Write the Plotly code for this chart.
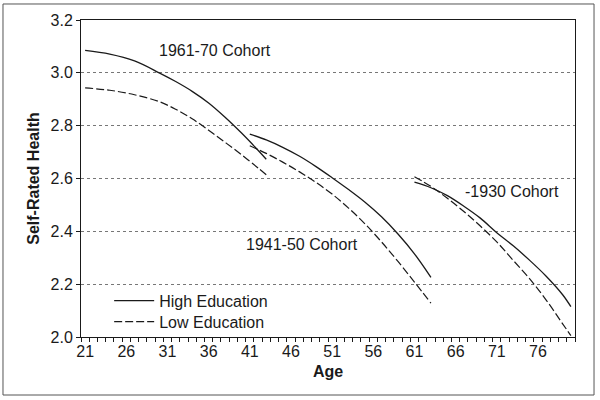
import plotly.graph_objects as go

# ---- data ----
ages_1961_70 = [21, 24, 27, 30, 32, 34, 36, 38, 40, 42, 43]
high_1961_70 = [3.085, 3.071, 3.045, 3.000, 2.967, 2.930, 2.886, 2.832, 2.772, 2.707, 2.673]
low_1961_70 = [2.943, 2.934, 2.917, 2.891, 2.862, 2.826, 2.783, 2.737, 2.690, 2.640, 2.614]

ages_1941_50 = [41, 43, 45, 47, 49, 51, 53, 55, 57, 59, 61, 63]
high_1941_50 = [2.768, 2.746, 2.718, 2.685, 2.646, 2.603, 2.558, 2.510, 2.455, 2.390, 2.315, 2.226]
low_1941_50 = [2.724, 2.695, 2.662, 2.626, 2.586, 2.541, 2.488, 2.428, 2.360, 2.286, 2.208, 2.128]

ages_1930 = [61, 63, 65, 67, 69, 71, 73, 75, 77, 79, 80]
high_1930 = [2.586, 2.565, 2.535, 2.495, 2.450, 2.395, 2.345, 2.290, 2.230, 2.160, 2.115]
low_1930 = [2.607, 2.570, 2.525, 2.475, 2.420, 2.360, 2.290, 2.220, 2.140, 2.050, 2.005]

x_tick_vals = [21, 26, 31, 36, 41, 46, 51, 56, 61, 66, 71, 76]
y_tick_vals = [2.0, 2.2, 2.4, 2.6, 2.8, 3.0, 3.2]

cohort_labels = ["1961-70 Cohort", "1941-50 Cohort", "-1930 Cohort"]
label_ages = [36.8, 47.4, 72.9]
label_values = [3.083, 2.351, 2.55]

FONT = "Liberation Sans, Arial, Helvetica, sans-serif"
INK = "#1a1a1a"

fig = go.Figure()

cohorts = [
    (ages_1961_70, high_1961_70, low_1961_70),
    (ages_1941_50, high_1941_50, low_1941_50),
    (ages_1930, high_1930, low_1930),
]
for i, (ages, hi, lo) in enumerate(cohorts):
    fig.add_trace(go.Scatter(
        x=ages, y=hi, mode="lines", name="High Education",
        legend="legend", showlegend=(i == 0),
        line=dict(color=INK, width=1.3, shape="spline", smoothing=1.0),
    ))
    fig.add_trace(go.Scatter(
        x=ages, y=lo, mode="lines", name="Low Education",
        legend="legend2", showlegend=(i == 0),
        line=dict(color=INK, width=1.2, dash="8px,3px", shape="spline", smoothing=1.0),
    ))

for txt, ax_, ay_ in zip(cohort_labels, label_ages, label_values):
    fig.add_annotation(x=ax_, y=ay_, text=txt, showarrow=False,
                       font=dict(family=FONT, size=16, color=INK))

# outer frame around the whole figure
fig.add_shape(type="rect", xref="paper", yref="paper",
              x0=-0.1579, x1=1.0385, y0=-0.183, y1=1.0505,
              line=dict(color="#555555", width=1))

legend_style = dict(xanchor="left", yanchor="top", bgcolor="rgba(0,0,0,0)",
                    borderwidth=0, itemwidth=40,
                    font=dict(family=FONT, size=16, color=INK))

fig.update_layout(
    width=600, height=400,
    margin=dict(l=81, r=25, t=20, b=63),
    paper_bgcolor="white", plot_bgcolor="white",
    font=dict(family=FONT, size=16, color=INK),
    showlegend=True,
    legend=dict(x=0.057, y=0.168, **legend_style),
    legend2=dict(x=0.057, y=0.102, **legend_style),
    xaxis=dict(
        range=[20.5, 80.5], tickmode="array", tickvals=x_tick_vals,
        ticktext=[str(v) for v in x_tick_vals],
        ticks="", showgrid=False, zeroline=False,
        showline=True, linecolor=INK, linewidth=1, mirror=True,
        tickfont=dict(family=FONT, size=16, color=INK),
        minor=dict(tickmode="linear", tick0=20.5, dtick=1, ticks="outside",
                   ticklen=4, tickcolor=INK, showgrid=False),
        title=dict(text="<b>Age</b>", font=dict(family=FONT, size=16, color=INK),
                   standoff=6),
    ),
    yaxis=dict(
        range=[2.0, 3.2], tickmode="array", tickvals=y_tick_vals,
        ticktext=[f"{v:.1f}" for v in y_tick_vals],
        ticks="outside", ticklen=4, tickcolor=INK,
        showgrid=True, gridcolor="#777777", gridwidth=1, griddash="dot",
        zeroline=False,
        showline=True, linecolor=INK, linewidth=1, mirror=True,
        tickfont=dict(family=FONT, size=16, color=INK),
        title=dict(text="<b>Self-Rated Health</b>",
                   font=dict(family=FONT, size=16, color=INK), standoff=6),
    ),
)

fig.write_html("out.html", config={"displayModeBar": False},
               post_script="document.body.style.margin='0';")
